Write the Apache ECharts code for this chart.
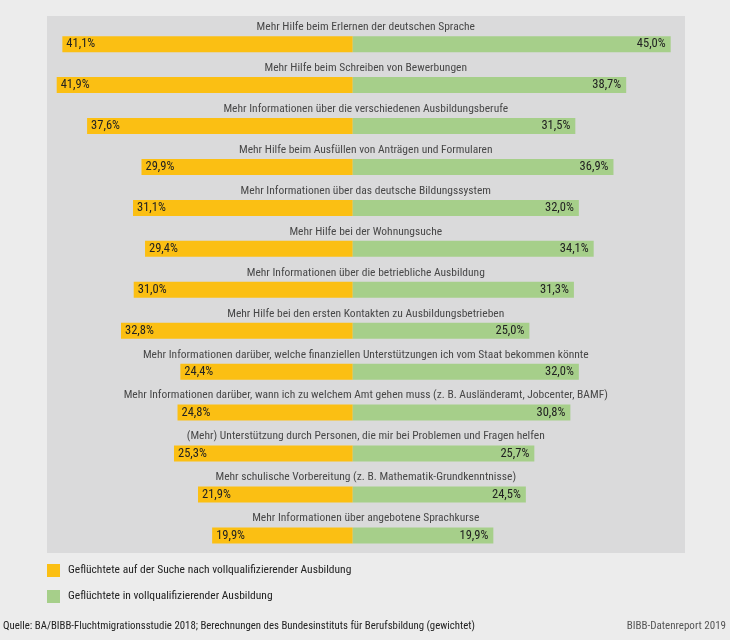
<!DOCTYPE html>
<html>
<head>
  <meta charset="utf-8">
  <title>BIBB Datenreport 2019</title>
  <style type="text/css">
    html, body { margin: 0; padding: 0; background: #ececec; }
    #main { width: 730px; height: 640px; }
  </style>
</head>
<body>
<div id="main"></div>
<script type="text/javascript" src="https://cdn.jsdelivr.net/npm/echarts@6/dist/echarts.min.js"></script>
<script type="text/javascript">
  var categories = [
    'Mehr Hilfe beim Erlernen der deutschen Sprache',
    'Mehr Hilfe beim Schreiben von Bewerbungen',
    'Mehr Informationen über die verschiedenen Ausbildungsberufe',
    'Mehr Hilfe beim Ausfüllen von Anträgen und Formularen',
    'Mehr Informationen über das deutsche Bildungssystem',
    'Mehr Hilfe bei der Wohnungsuche',
    'Mehr Informationen über die betriebliche Ausbildung',
    'Mehr Hilfe bei den ersten Kontakten zu Ausbildungsbetrieben',
    'Mehr Informationen darüber, welche finanziellen Unterstützungen ich vom Staat bekommen könnte',
    'Mehr Informationen darüber, wann ich zu welchem Amt gehen muss (z. B. Ausländeramt, Jobcenter, BAMF)',
    '(Mehr) Unterstützung durch Personen, die mir bei Problemen und Fragen helfen',
    'Mehr schulische Vorbereitung (z. B. Mathematik-Grundkenntnisse)',
    'Mehr Informationen über angebotene Sprachkurse'
  ];
  var suchend = [41.1, 41.9, 37.6, 29.9, 31.1, 29.4, 31.0, 32.8, 24.4, 24.8, 25.3, 21.9, 19.9];
  var inAusbildung = [45.0, 38.7, 31.5, 36.9, 32.0, 34.1, 31.3, 25.0, 32.0, 30.8, 25.7, 24.5, 19.9];
  var seriesNames = [
    'Geflüchtete auf der Suche nach vollqualifizierender Ausbildung',
    'Geflüchtete in vollqualifizierender Ausbildung'
  ];

  var FONT = '"Roboto Condensed", "Liberation Sans Narrow", sans-serif';
  var FS = 11.5;
  var INK = '#222';

  function fmt(v) {
    return Math.abs(v).toFixed(1).replace('.', ',') + '%';
  }

  var myChart = echarts.init(document.getElementById('main'));

  var option = {
    backgroundColor: '#ececec',
    animation: false,
    textStyle: { fontFamily: FONT },
    graphic: [
      {
        type: 'rect',
        z: -10,
        shape: { x: 47, y: 16, width: 638, height: 537 },
        style: { fill: '#dadadb' }
      },
      {
        type: 'text',
        left: 3,
        top: 621,
        style: {
          text: 'Quelle: BA/BIBB-Fluchtmigrationsstudie 2018; Berechnungen des Bundesinstituts für Berufsbildung (gewichtet)',
          fill: INK, font: '10.8px ' + FONT
        }
      },
      {
        type: 'text',
        right: 4,
        top: 621,
        style: {
          text: 'BIBB-Datenreport 2019',
          fill: '#555', font: '11px ' + FONT
        }
      }
    ],
    legend: {
      data: seriesNames,
      orient: 'vertical',
      left: 47,
      top: 564,
      padding: 0,
      itemWidth: 13,
      itemHeight: 13,
      itemGap: 13,
      icon: 'rect',
      textStyle: { fontSize: FS, color: INK, fontFamily: FONT, padding: [4, 0, 0, 3] }
    },
    grid: {
      left: 34.8,
      right: 59.3,
      top: 23.7,
      bottom: 84.1,
      containLabel: false
    },
    xAxis: {
      type: 'value',
      min: -45,
      max: 45,
      show: false
    },
    yAxis: {
      type: 'category',
      data: categories,
      inverse: true,
      show: false
    },
    series: [
      {
        name: seriesNames[0],
        type: 'bar',
        barWidth: 16,
        barGap: '-100%',
        itemStyle: { color: '#fbbf13' },
        label: {
          show: true,
          position: 'insideLeft',
          distance: 4,
          color: INK,
          fontSize: 12.5,
          fontFamily: FONT,
          formatter: function (p) { return fmt(p.value); }
        },
        data: suchend.map(function (v) { return -v; })
      },
      {
        name: seriesNames[1],
        type: 'bar',
        barWidth: 16,
        barGap: '-100%',
        itemStyle: { color: '#a6cf8a' },
        label: {
          show: true,
          position: 'insideRight',
          distance: 5,
          color: INK,
          fontSize: 12.5,
          fontFamily: FONT,
          formatter: function (p) { return fmt(p.value); }
        },
        data: inAusbildung
      },
      {
        name: 'kategorien',
        type: 'scatter',
        symbolSize: 0,
        silent: true,
        label: {
          show: true,
          position: 'inside',
          offset: [13, -17],
          color: INK,
          fontSize: FS,
          fontFamily: FONT,
          formatter: function (p) { return categories[p.dataIndex]; }
        },
        data: categories.map(function (c, i) { return [0, i]; })
      }
    ]
  };

  myChart.setOption(option);
</script>
</body>
</html>
